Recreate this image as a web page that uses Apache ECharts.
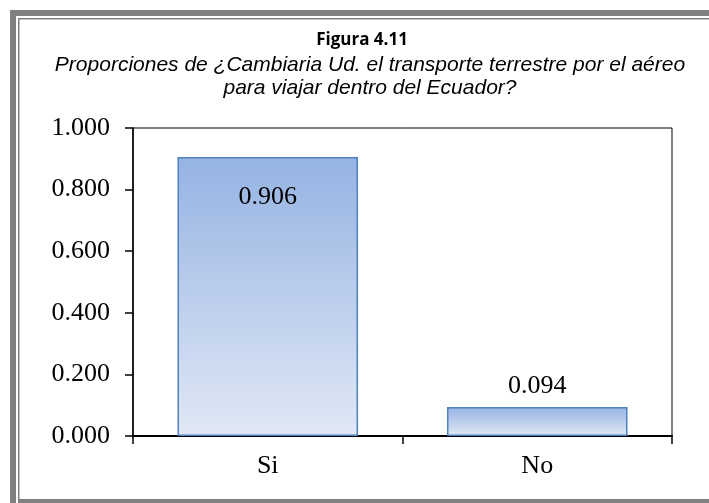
<!DOCTYPE html>
<html>
<head>
<meta charset="utf-8">
<script src="https://cdn.jsdelivr.net/npm/echarts@6/dist/echarts.min.js"></script>
<style>
html,body{margin:0;padding:0;background:#fff;}
#chart{width:709px;height:503px;}
</style>
</head>
<body>
<div id="chart"></div>
<script>
const categories = ['Si', 'No'];
const values = [0.906, 0.094];
const yTicks = {min: 0, max: 1, interval: 0.2};
const titleText = 'Figura 4.11';
const subtitleText = 'Proporciones de ¿Cambiaria Ud. el transporte terrestre por el aéreo\npara viajar dentro del Ecuador?';

const chart = echarts.init(document.getElementById('chart'));
const grey = '#808080';
const option = {
  backgroundColor: '#fff',
  animation: false,
  title: [
    {text: titleText, left: 357, textAlign: 'center', top: 27,
     textStyle: {fontFamily: 'Open Sans', fontWeight: 'bold', fontSize: 17, color: '#000'}},
    {text: subtitleText, left: 365, textAlign: 'center', top: 49,
     textStyle: {fontFamily: 'Liberation Sans', fontStyle: 'italic', fontWeight: 'normal', fontSize: 21, lineHeight: 23, color: '#000', align: 'center'}}
  ],
  graphic: [
    {type: 'rect', shape: {x: 10, y: 10, width: 6, height: 493}, style: {fill: grey}, silent: true},
    {type: 'rect', shape: {x: 10, y: 10, width: 699, height: 6}, style: {fill: grey}, silent: true},
    {type: 'rect', shape: {x: 18, y: 18, width: 1.5, height: 483}, style: {fill: grey}, silent: true},
    {type: 'rect', shape: {x: 18, y: 18, width: 691, height: 1.5}, style: {fill: grey}, silent: true},
    {type: 'rect', shape: {x: 18, y: 499, width: 691, height: 4}, style: {fill: grey}, silent: true}
  ],
  grid: {left: 133, top: 128, right: 37, bottom: 67, show: true, borderColor: '#000', borderWidth: 1},
  xAxis: {
    type: 'category', data: categories,
    axisLine: {lineStyle: {color: '#000', width: 2}},
    axisTick: {show: true, length: 8, lineStyle: {color: '#000', width: 1.5}},
    axisLabel: {fontFamily: 'Liberation Serif', fontSize: 26, color: '#000', margin: 17}
  },
  yAxis: {
    type: 'value', min: yTicks.min, max: yTicks.max, interval: yTicks.interval,
    splitLine: {show: false},
    axisLine: {show: true, lineStyle: {color: '#000', width: 1.5}},
    axisTick: {show: true, length: 8, lineStyle: {color: '#000', width: 1.5}},
    axisLabel: {fontFamily: 'Liberation Serif', fontSize: 26, color: '#000', margin: 23,
      formatter: v => v.toFixed(3)}
  },
  series: [{
    type: 'bar',
    barCategoryGap: '33%',
    data: values.map((v, i) => ({
      value: v,
      label: i === 0 ? {position: 'insideTop', distance: 27} : {position: 'top', distance: 8}
    })),
    itemStyle: {
      borderColor: '#4f81bd', borderWidth: 1.5,
      color: new echarts.graphic.LinearGradient(0, 0, 0, 1, [
        {offset: 0, color: '#95b3e3'},
        {offset: 1, color: '#e1e8f5'}
      ])
    },
    label: {show: true, fontFamily: 'Liberation Serif', fontSize: 26, color: '#000',
      formatter: p => p.value.toFixed(3)}
  }]
};
chart.setOption(option);
</script>
</body>
</html>
